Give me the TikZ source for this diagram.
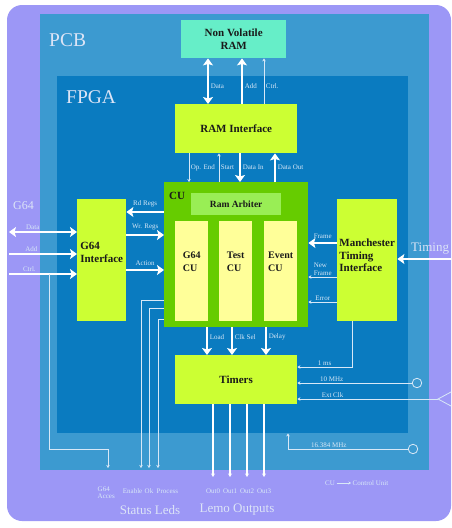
\documentclass[tikz,border=0pt]{standalone}
\usepackage{fontspec}
\setmainfont{Liberation Serif}
\usetikzlibrary{arrows.meta, positioning, calc}
\definecolor{lilac}{HTML}{9C97F6}
\definecolor{pcbblue}{HTML}{3C9AD0}
\definecolor{fpgablue}{HTML}{0A7BC0}
\definecolor{mint}{HTML}{66EEC8}
\definecolor{chartreuse}{HTML}{CCFF33}
\definecolor{leaf}{HTML}{66CC00}
\definecolor{sprout}{HTML}{99EE55}
\definecolor{cream}{HTML}{FFFF99}
\definecolor{ink}{HTML}{1A1A1A}
\definecolor{wirecol}{HTML}{D8E8F7}
\definecolor{haze}{HTML}{DCE4F6}
\tikzset{
  slab/.style={rectangle, anchor=north west, inner sep=0pt},
  unitbox/.style={
    rectangle, anchor=north west, inner sep=2pt,
    font=\bfseries\fontsize{11}{12.5}\selectfont, text=ink, align=center
  },
  mintbox/.style={unitbox, fill=mint},
  limebox/.style={unitbox, fill=chartreuse},
  cubox/.style={unitbox, fill=leaf},
  subbox/.style={unitbox, fill=cream, font=\bfseries\fontsize{10}{12.5}\selectfont, align=left, text depth=19pt},
  arbbox/.style={unitbox, fill=sprout, font=\bfseries\fontsize{9.5}{11}\selectfont},
  sig/.style={font=\fontsize{7}{8}\selectfont, text=wirecol, inner sep=1.5pt},
  boardname/.style={font=\fontsize{19.5}{21}\selectfont, text=haze, inner sep=0pt, anchor=west},
  bigtext/.style={font=\fontsize{13}{14}\selectfont, text=haze, inner sep=0pt},
  bus/.style={-{Stealth[length=7pt,width=10pt,inset=1.5pt]}, line width=2.6pt, draw=white},
  busboth/.style={bus, {Stealth[length=7pt,width=10pt,inset=1.5pt]}-{Stealth[length=7pt,width=10pt,inset=1.5pt]}},
  sigline/.style={-{Stealth[length=3pt,width=3.5pt]}, line width=0.8pt, draw=wirecol},
  lemo/.style={-{Stealth[length=3.5pt,width=4pt]}, line width=1.3pt, draw=white},
  bare/.style={line width=0.8pt, draw=wirecol},
  jack/.style={circle, draw=wirecol, line width=0.8pt, minimum size=9.5pt, inner sep=0pt},
}

\begin{document}
\begin{tikzpicture}[x=1pt, y=-1pt]
  \useasboundingbox (0,0) rectangle (452,528);
  \fill[lilac, rounded corners=15pt] (7,5) rectangle (451,521);

  % boards
  \node[slab, fill=pcbblue, minimum width=389pt, minimum height=456pt] (pcb) at (40,14) {};
  \node[slab, fill=fpgablue, minimum width=351pt, minimum height=357pt] (fpga) at (57,76) {};
  \node[boardname] (pcbname) at ($(pcb.north west)+(9,26)$) {PCB};
  \node[boardname] (fpganame) at ($(fpga.north west)+(9,21)$) {FPGA};

  % blocks
  \node[mintbox, minimum width=105pt, minimum height=38pt] (nvram) at (181,20) {Non Volatile\\RAM};
  \node[limebox, minimum width=122pt, minimum height=49pt] (ramif) at (175,104) {RAM Interface};
  \node[cubox, minimum width=144pt, minimum height=145pt] (cu) at (164,182) {};
  \node[font=\bfseries\fontsize{11}{12}\selectfont, text=ink, inner sep=0pt, anchor=west] (culabel)
    at ($(cu.north west)+(5,14)$) {CU};
  \node[arbbox, minimum width=90pt, minimum height=22pt] (arb) at (191,193) {Ram Arbiter};
  \node[subbox, minimum width=33pt, minimum height=100pt] (g64cu) at (175,221) {G64\\CU};
  \node[subbox, minimum width=33pt, minimum height=100pt] (testcu) at (219,221) {Test\\CU};
  \node[subbox, minimum width=33pt, minimum height=100pt] (eventcu) at (264,221) {Event\\CU};
  \node[limebox, align=left, text depth=16pt, minimum width=49pt, minimum height=122pt] (g64if) at (77,199) {G64\\Interface};
  \node[limebox, align=left, text depth=10pt, minimum width=60pt, minimum height=122pt] (mti) at (337,199) {Manchester\\Timing\\Interface};
  \node[limebox, minimum width=122pt, minimum height=49pt] (timers) at (175,355) {Timers};

  % ram side
  \coordinate (tdata) at (208,0);
  \coordinate (tadd) at (242,0);
  \coordinate (tctrl) at (264,0);
  \draw[busboth] (ramif.north -| tdata) -- (nvram.south -| tdata) node[sig, pos=0.4, right] {Data};
  \draw[bus] (ramif.north -| tadd) -- (nvram.south -| tadd) node[sig, pos=0.4, right] {Add};
  \draw[sigline] (ramif.north -| tctrl) -- (nvram.south -| tctrl) node[sig, pos=0.4, right] {Ctrl.};

  \coordinate (topend) at (189,0);
  \coordinate (tstart) at (219,0);
  \coordinate (tdin) at (240,0);
  \coordinate (tdout) at (275,0);
  \draw[sigline] (ramif.south -| topend) -- (cu.north -| topend) node[sig, midway, right] {Op. End};
  \draw[sigline] (cu.north -| tstart) -- (ramif.south -| tstart) node[sig, midway, right] {Start};
  \draw[bus] (ramif.south -| tdin) -- (cu.north -| tdin) node[sig, midway, right] {Data In};
  \draw[bus] (cu.north -| tdout) -- (ramif.south -| tdout) node[sig, midway, right] {Data Out};

  % g64 side
  \coordinate (yrd) at (0,212);
  \coordinate (ywr) at (0,235);
  \coordinate (yact) at (0,270);
  \draw[bus] (cu.west |- yrd) -- (g64if.east |- yrd) node[sig, midway, above=2pt] {Rd Regs};
  \draw[bus] (g64if.east |- ywr) -- (cu.west |- ywr) node[sig, midway, above=2pt] {Wr. Regs};
  \draw[bus] (g64if.east |- yact) -- (cu.west |- yact) node[sig, midway, above=2pt] {Action};

  \node[bigtext, font=\fontsize{12}{13}\selectfont, anchor=west] (g64name) at (13,206) {G64};
  \coordinate (g64data) at (9,232);
  \coordinate (g64add) at (9,254);
  \coordinate (g64ctrl) at (9,274);
  \draw[busboth] (g64data) -- (g64if.west |- g64data) node[sig, pos=0.35, above] {Data};
  \draw[bus] (g64add) -- (g64if.west |- g64add) node[sig, pos=0.33, above] {Add};
  \draw[bus] (g64ctrl) -- (g64if.west |- g64ctrl) node[sig, pos=0.3, above] {Ctrl.};

  % timing side
  \coordinate (yframe) at (0,243);
  \coordinate (ynew) at (0,277);
  \coordinate (yerr) at (0,302);
  \draw[bus] (mti.west |- yframe) -- (cu.east |- yframe) node[sig, midway, above=2pt] {Frame};
  \draw[sigline] (mti.west |- ynew) -- (cu.east |- ynew) node[sig, midway, above, align=left] {New\\Frame};
  \draw[sigline] (mti.west |- yerr) -- (cu.east |- yerr) node[sig, midway, above] {Error};

  \coordinate (tmgin) at (451,259);
  \draw[bus] (tmgin) -- (mti.east |- tmgin) node[bigtext, pos=0.39, above=3pt] {Timing};

  % timers
  \coordinate (tload) at (207,0);
  \coordinate (tclk) at (232,0);
  \coordinate (tdelay) at (266,0);
  \draw[bus] (cu.south -| tload) -- (timers.north -| tload) node[sig, pos=0.35, right] {Load};
  \draw[bus] (cu.south -| tclk) -- (timers.north -| tclk) node[sig, pos=0.35, right] {Clk Sel};
  \draw[bus] (cu.south -| tdelay) -- (timers.north -| tdelay) node[sig, pos=0.35, right] {Delay};

  \coordinate (bend1ms) at (352,367);
  \draw[sigline] (mti.south -| bend1ms) -- (bend1ms) -- (timers.east |- bend1ms) node[sig, midway, above] {1 ms};

  \node[jack] (jack10) at (417,383) {};
  \draw[sigline] (jack10.west) -- (timers.east |- jack10) node[sig, pos=0.7, above] {10 MHz};

  \coordinate (extclk) at (438,399);
  \draw[bare] ($(extclk)+(13,-7)$) -- (extclk) -- ($(extclk)+(13,7)$);
  \draw[sigline] (extclk) -- (timers.east |- extclk) node[sig, pos=0.75, above] {Ext Clk};

  \node[jack] (jack16) at (413,449) {};
  \coordinate (bend16) at (288,449);
  \draw[sigline] (jack16.west) -- node[sig, pos=0.66, above] {16.384 MHz} (bend16) -- (fpga.south -| bend16);

  % outputs
  \coordinate (labelrow) at (0,487);
  \coordinate (out0) at (213,477);
  \coordinate (out1) at (230,477);
  \coordinate (out2) at (247,477);
  \coordinate (out3) at (264,477);
  \draw[lemo] (timers.south -| out0) -- (out0);
  \draw[lemo] (timers.south -| out1) -- (out1);
  \draw[lemo] (timers.south -| out2) -- (out2);
  \draw[lemo] (timers.south -| out3) -- (out3);
  \node[sig, anchor=north] (lbout0) at (out0 |- labelrow) {Out0};
  \node[sig, anchor=north] (lbout1) at (out1 |- labelrow) {Out1};
  \node[sig, anchor=north] (lbout2) at (out2 |- labelrow) {Out2};
  \node[sig, anchor=north] (lbout3) at (out3 |- labelrow) {Out3};
  \node[bigtext] (lemoname) at (237,510) {Lemo Outputs};

  % status leds
  \coordinate (accbranch) at (49,274);
  \coordinate (accbend) at (49,449);
  \coordinate (accled) at (108,468);
  \draw[sigline] (accbranch) -- (accbend) -| (accled);
  \coordinate (yena) at (0,300);
  \coordinate (yok) at (0,308);
  \coordinate (yproc) at (0,319);
  \coordinate (ledena) at (141,468);
  \coordinate (ledok) at (149,468);
  \coordinate (ledproc) at (158,468);
  \draw[sigline] (cu.west |- yena) -| (ledena);
  \draw[sigline] (cu.west |- yok) -| (ledok);
  \draw[sigline] (cu.west |- yproc) -| (ledproc);
  \node[sig, anchor=north west, align=left, font=\fontsize{7}{7.5}\selectfont] (lbacc)
    at ($(accled |- labelrow)+(-12,-2)$) {G64\\Acces};
  \node[sig, anchor=north east] (lbena) at ($(ledena |- labelrow)+(3,0)$) {Enable};
  \node[sig, anchor=north] (lbok) at (ledok |- labelrow) {Ok};
  \node[sig, anchor=north west] (lbproc) at ($(ledproc |- labelrow)+(-3,0)$) {Process};
  \node[bigtext] (statusname) at (150,510) {Status Leds};

  % legend
  \node[sig] (cuabbr) at (330,483) {CU};
  \node[sig, anchor=west] (cufull) at (351,483) {Control Unit};
  \draw[-{Stealth[length=2.5pt,width=3pt]}, draw=wirecol, line width=0.5pt] (cuabbr.east) -- (cufull.west);
\end{tikzpicture}
\end{document}
